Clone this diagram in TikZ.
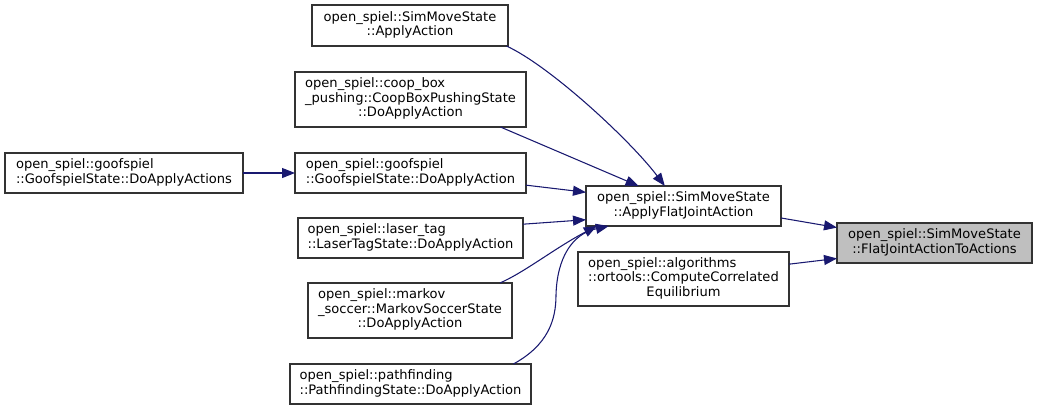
\documentclass[tikz,border=0pt]{standalone}
\usepackage{fontspec}
\setmainfont{DejaVu Sans}
\usetikzlibrary{arrows.meta}
\definecolor{edgeblue}{HTML}{191970}
\definecolor{focusgray}{HTML}{BFBFBF}
\newcommand{\twoln}[2]{\begin{tabular}{@{}l@{}}#1\\\multicolumn{1}{@{}c@{}}{#2}\end{tabular}}
\newcommand{\threeln}[3]{\begin{tabular}{@{}l@{}}#1\\#2\\\multicolumn{1}{@{}c@{}}{#3}\end{tabular}}
\begin{document}
\begin{tikzpicture}
  [x=0.75pt,y=-0.75pt,
   every node/.style={draw=black!80,line width=1pt,fill=white,inner sep=1pt,outer sep=0pt,
                      font=\fontsize{9.8}{10.8}\selectfont},
   fnbox/.style 2 args={minimum width={#1*0.75pt},minimum height={#2*0.75pt}},
   call/.style={draw=edgeblue,line width=0.8pt,-{Triangle[length=9.75pt,width=7.5pt]}}]
  \useasboundingbox (0,0) rectangle (1037,411);

  \node[fnbox={196}{41}] (applyaction) at (410,25.5) {\twoln{open\_spiel::SimMoveState}{::ApplyAction}};
  \node[fnbox={231}{55}] (coopbox) at (410.5,99.5) {\threeln{open\_spiel::coop\_box}{\_pushing::CoopBoxPushingState}{::DoApplyAction}};
  \node[fnbox={231}{40}] (goofaction) at (410.5,173) {\twoln{open\_spiel::goofspiel}{::GoofspielState::DoApplyAction}};
  \node[fnbox={225}{40}] (lasertag) at (410.5,238) {\twoln{open\_spiel::laser\_tag}{::LaserTagState::DoApplyAction}};
  \node[fnbox={204}{55}] (markov) at (410,310.5) {\threeln{open\_spiel::markov}{\_soccer::MarkovSoccerState}{::DoApplyAction}};
  \node[fnbox={241}{40}] (pathfind) at (410.5,384) {\twoln{open\_spiel::pathfinding}{::PathfindingState::DoApplyAction}};
  \node[fnbox={238}{40}] (goofactions) at (124,173) {\twoln{open\_spiel::goofspiel}{::GoofspielState::DoApplyActions}};
  \node[fnbox={195}{40}] (flatjoint) at (683.5,206) {\twoln{open\_spiel::SimMoveState}{::ApplyFlatJointAction}};
  \node[fnbox={211}{54}] (correlated) at (683.5,279) {\threeln{open\_spiel::algorithms}{::ortools::ComputeCorrelated}{Equilibrium}};
  \node[fnbox={195}{40},fill=focusgray] (toactions) at (934.5,243) {\twoln{open\_spiel::SimMoveState}{::FlatJointActionToActions}};

  \draw[call] (goofactions.east) -- (goofaction.west);
  \draw[call] (applyaction.-12.5) .. controls (550,66) and (630,140) .. (flatjoint.133);
  \draw[call] (coopbox.-17.6) -- (flatjoint.156.7);
  \draw[call] (goofaction.-6.8) -- (flatjoint.172.4);
  \draw[call] (lasertag.7.1) -- (flatjoint.-172.7);
  \draw[call] (markov.17.4) .. controls (525,272) and (555,248) .. (flatjoint.-167.7);
  \draw[call] (pathfind.11.7) .. controls (548,345) and (556,320) .. (556,295)
    .. controls (557,258) and (572,234) .. (flatjoint.-165.7);
  \draw[call] (flatjoint.-7.6) -- (toactions.171.8);
  \draw[call] (correlated.8.6) -- (toactions.-171.3);
\end{tikzpicture}
\end{document}
